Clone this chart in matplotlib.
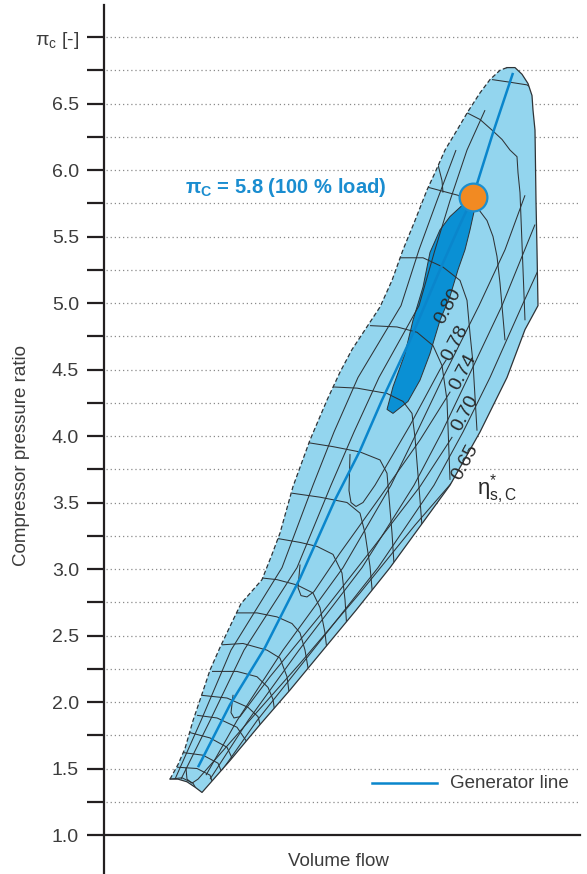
import matplotlib
matplotlib.use('Agg')
import matplotlib.pyplot as plt
from matplotlib.patches import Polygon

plt.rcParams['font.family'] = ['Liberation Sans', 'DejaVu Sans']
plt.rcParams['mathtext.fontset'] = 'custom'
plt.rcParams['mathtext.rm'] = 'Liberation Sans'
plt.rcParams['mathtext.it'] = 'Liberation Sans:italic'
plt.rcParams['mathtext.bf'] = 'Liberation Sans:bold'

# ---------------- data ----------------
# y axis
major_ticks = [1.0, 1.5, 2.0, 2.5, 3.0, 3.5, 4.0, 4.5, 5.0, 5.5, 6.0, 6.5, 7.0]
major_labels = ['1.0', '1.5', '2.0', '2.5', '3.0', '3.5', '4.0', '4.5', '5.0', '5.5', '6.0', '6.5',
                r'$\mathrm{\pi_{c}}$ [-]']
minor_ticks = [1.25, 1.75, 2.25, 2.75, 3.25, 3.75, 4.25, 4.75, 5.25, 5.75, 6.25, 6.75]
grid_levels = [1.25, 1.5, 1.75, 2.0, 2.25, 2.5, 2.75, 3.0, 3.25, 3.5, 3.75, 4.0, 4.25, 4.5,
               4.75, 5.0, 5.25, 5.5, 5.75, 6.0, 6.25, 6.5, 6.75, 7.0]

# map envelope: surge side (dashed), from bottom tip to top
surge_v = [0.66, 0.74, 0.81, 0.89, 0.98, 1.06, 1.16, 1.28, 1.37, 1.58, 1.68, 1.76, 1.89, 2.06,
           2.23, 2.36, 2.48, 2.62, 2.76, 2.88, 2.99, 3.11, 3.23, 3.31, 3.41, 3.53, 3.64, 3.76,
           3.86, 3.96, 4.03]
surge_p = [1.42, 1.53, 1.65, 1.86, 2.06, 2.24, 2.41, 2.60, 2.74, 2.92, 3.11, 3.27, 3.62, 3.97,
           4.27, 4.48, 4.65, 4.81, 4.97, 5.17, 5.40, 5.62, 5.85, 5.98, 6.15, 6.30, 6.44, 6.58,
           6.68, 6.75, 6.77]
# choke side (solid), from top down to bottom tip
choke_v = [4.03, 4.11, 4.18, 4.24, 4.28, 4.29, 4.31, 4.32, 4.33, 4.34, 4.21, 4.03, 3.76, 3.46,
           3.16, 2.86, 2.52, 2.19, 1.86, 1.56, 1.26, 0.98, 0.91, 0.83, 0.74, 0.66]
choke_p = [6.77, 6.77, 6.72, 6.65, 6.56, 6.45, 6.30, 5.77, 5.40, 4.98, 4.80, 4.44, 4.03, 3.63,
           3.32, 3.01, 2.69, 2.39, 2.09, 1.83, 1.56, 1.32, 1.36, 1.40, 1.42, 1.42]

# efficiency island (eta >= 0.80)
island_v = [3.71, 3.66, 3.61, 3.54, 3.46, 3.36, 3.26, 3.16, 3.04, 2.89, 2.83, 2.89, 3.01, 3.09,
            3.19, 3.26, 3.36, 3.46, 3.59, 3.66]
island_p = [5.72, 5.55, 5.40, 5.25, 5.05, 4.87, 4.62, 4.42, 4.26, 4.17, 4.20, 4.37, 4.62, 4.87,
            5.12, 5.38, 5.55, 5.65, 5.74, 5.77]

# generator line
gen_v = [0.94, 1.26, 1.61, 1.96, 2.31, 2.56, 2.78, 3.06, 3.36, 3.56, 3.69, 3.89, 4.09]
gen_p = [1.51, 1.98, 2.41, 2.93, 3.52, 3.89, 4.27, 4.72, 5.25, 5.59, 5.80, 6.28, 6.73]

# design point
design_v = 3.69
design_p = 5.8

# speed lines
speed_lines = [
    ([0.66, 0.78, 0.89, 0.94], [1.42, 1.43, 1.39, 1.32]),
    ([0.73, 0.93, 1.06, 1.11], [1.51, 1.50, 1.45, 1.34]),
    ([0.79, 0.99, 1.14, 1.21], [1.62, 1.60, 1.54, 1.41]),
    ([0.86, 1.06, 1.23, 1.31], [1.77, 1.73, 1.66, 1.53]),
    ([0.93, 1.13, 1.33, 1.42, 1.46], [1.90, 1.88, 1.81, 1.71, 1.56]),
    ([0.98, 1.23, 1.44, 1.54, 1.59], [2.05, 2.03, 1.96, 1.89, 1.75]),
    ([1.08, 1.33, 1.53, 1.64, 1.69, 1.72], [2.23, 2.23, 2.19, 2.11, 2.02, 1.86]),
    ([1.18, 1.39, 1.63, 1.76, 1.83, 1.86], [2.43, 2.44, 2.39, 2.33, 2.19, 2.02]),
    ([1.29, 1.53, 1.73, 1.88, 1.96, 2.01, 2.06], [2.67, 2.67, 2.64, 2.59, 2.52, 2.39, 2.17]),
    ([1.49, 1.73, 1.93, 2.09, 2.16, 2.21, 2.24], [2.94, 2.92, 2.88, 2.82, 2.71, 2.52, 2.32]),
    ([1.73, 1.96, 2.13, 2.29, 2.38, 2.41, 2.43], [3.23, 3.20, 3.17, 3.11, 2.97, 2.77, 2.54]),
    ([1.88, 2.16, 2.43, 2.56, 2.61, 2.66, 2.69], [3.57, 3.54, 3.50, 3.42, 3.27, 3.02, 2.77]),
    ([2.04, 2.29, 2.56, 2.76, 2.83, 2.88, 2.91], [3.95, 3.92, 3.88, 3.82, 3.72, 3.27, 2.92]),
    ([2.26, 2.53, 2.83, 2.99, 3.08, 3.11, 3.16, 3.19], [4.37, 4.36, 4.32, 4.26, 4.17, 3.99, 3.52, 3.22]),
    ([2.66, 2.93, 3.13, 3.29, 3.38, 3.43, 3.46], [4.83, 4.82, 4.78, 4.68, 4.53, 4.27, 3.67]),
    ([2.89, 3.19, 3.39, 3.56, 3.63, 3.66, 3.69, 3.73], [5.34, 5.34, 5.27, 5.17, 5.02, 4.77, 4.55, 4.04]),
    ([3.24, 3.54, 3.73, 3.83, 3.89, 3.93, 3.96, 4.01], [5.87, 5.81, 5.72, 5.62, 5.50, 5.35, 5.15, 4.72]),
    ([3.63, 3.76, 3.88, 3.98, 4.06, 4.13, 4.14, 4.16, 4.21], [6.43, 6.38, 6.30, 6.23, 6.15, 6.10, 5.98, 5.83, 4.87]),
    ([3.88, 4.06, 4.23, 4.31], [6.68, 6.66, 6.64, 6.60]),
]

# grid lines running along the map (choke side and surge side)
band_lines = [
    ([1.10, 1.53, 2.09, 2.74, 3.30, 3.59, 3.86, 4.18, 4.41], [1.40, 1.86, 2.39, 3.01, 3.63, 4.03, 4.44, 4.98, 5.36]),
    ([1.06, 1.44, 1.95, 2.58, 3.10, 3.38, 3.64, 3.98, 4.31], [1.42, 1.86, 2.39, 3.01, 3.63, 4.03, 4.44, 4.98, 5.59]),
    ([1.02, 1.33, 1.79, 2.39, 2.87, 3.13, 3.39, 3.75, 4.01, 4.21], [1.45, 1.86, 2.39, 3.01, 3.63, 4.03, 4.44, 4.98, 5.40, 5.81]),
    ([0.71, 0.97, 1.27, 1.78, 2.09, 2.30, 2.54, 2.97, 3.15, 3.33, 3.52], [1.42, 1.86, 2.39, 3.01, 3.63, 4.03, 4.44, 4.98, 5.40, 5.77, 6.15]),
    ([0.77, 1.06, 1.40, 1.93, 2.27, 2.50, 2.75, 3.15, 3.31, 3.46, 3.63, 3.81], [1.42, 1.86, 2.39, 3.01, 3.63, 4.03, 4.44, 4.98, 5.40, 5.77, 6.15, 6.45]),
    ([3.26, 3.34, 3.38, 3.39], [6.15, 6.04, 5.92, 5.83]),
]

# efficiency contours (eta*_s,C)
eff_levels = ['0.78', '0.74', '0.70', '0.65']
eff_lines = [
    ([2.46, 2.45, 2.47, 2.52, 2.59, 2.71, 3.06, 3.36, 3.42], [3.86, 3.59, 3.50, 3.47, 3.50, 3.63, 4.08, 4.50, 4.57]),
    ([1.96, 1.94, 1.97, 2.03, 2.10, 2.36, 2.76, 3.16, 3.46], [3.03, 2.86, 2.80, 2.79, 2.83, 3.12, 3.54, 3.97, 4.33]),
    ([1.29, 1.27, 1.30, 1.36, 1.66, 2.16, 2.66, 3.16, 3.48], [2.05, 1.92, 1.88, 1.89, 2.19, 2.65, 3.13, 3.62, 3.99]),
    ([0.82, 0.83, 0.88, 0.94, 1.36, 1.96, 2.56, 3.11, 3.49], [1.50, 1.42, 1.39, 1.42, 1.78, 2.29, 2.82, 3.33, 3.66]),
]
label_levels = ['0.80', '0.78', '0.74', '0.70', '0.65']
label_v = [3.44, 3.51, 3.59, 3.61, 3.61]
label_p = [4.98, 4.70, 4.48, 4.17, 3.80]

# ---------------- figure ----------------
DARK = '#231f20'
TXT = '#3c3c3c'
LIGHT = '#93d5ee'
ISLAND = '#0a90d4'
BLUE = '#0a86cc'
LINE = '#2f3336'

fig = plt.figure(figsize=(5.87, 8.74), dpi=100)
ax = fig.add_axes([104 / 587, 0, 483 / 587, 1])
ax.set_xlim(0, 4.83)
ax.set_ylim(0.7068, 7.2782)

for s in ['top', 'right']:
    ax.spines[s].set_visible(False)
ax.spines['bottom'].set_position(('data', 1.0))
ax.spines['bottom'].set_bounds(0, 4.76)
ax.spines['left'].set_bounds(0.7068, 7.24)
for s in ['bottom', 'left']:
    ax.spines[s].set_linewidth(1.6)
    ax.spines[s].set_color(DARK)
ax.set_xticks([])
ax.set_yticks(major_ticks)
ax.set_yticklabels(major_labels)
ax.set_yticks(minor_ticks, minor=True)
ax.tick_params(axis='y', which='both', length=12.5, width=1.6, color=DARK, pad=5.5,
               labelsize=14, labelcolor=TXT)
ax.patch.set_alpha(0)

ax.hlines(grid_levels, 0.02, 4.74, colors='#8a8a8a', linestyles=(0, (1, 2.3)), lw=0.9, zorder=0)

env_v = surge_v + choke_v
env_p = surge_p + choke_p
env = Polygon(list(zip(env_v, env_p)), closed=True, facecolor=LIGHT, edgecolor='none', zorder=1)
ax.add_patch(env)

isl = Polygon(list(zip(island_v, island_p)), closed=True, facecolor=ISLAND, edgecolor=LINE,
              lw=0.7, zorder=2)
ax.add_patch(isl)
isl.set_clip_path(env)

for v, p in speed_lines + band_lines:
    ln, = ax.plot(v, p, color=LINE, lw=0.75, zorder=3, solid_capstyle='butt')
    ln.set_clip_path(env)
for v, p in eff_lines:
    ln, = ax.plot(v, p, color=LINE, lw=0.75, zorder=3)
    ln.set_clip_path(env)

ax.plot(gen_v, gen_p, color=BLUE, lw=1.8, zorder=4, solid_capstyle='butt')

ax.plot(surge_v, surge_p, color=LINE, lw=0.9, ls=(0, (3.5, 2)), zorder=5)
ax.plot(choke_v, choke_p, color=LINE, lw=0.9, zorder=5)

ax.plot([design_v], [design_p], 'o', ms=20, mfc='#f28a22', mec='#1a8fd0', mew=1.6, zorder=6)

for lab, v, p in zip(label_levels, label_v, label_p):
    ax.text(v, p, lab, rotation=62, ha='center', va='center', fontsize=14, color='#2a2a2a', zorder=7)

ax.text(3.73, 3.60, r'$\mathrm{\eta}^{*}_{\mathrm{s,C}}$', fontsize=16, color='#2a2a2a',
        ha='left', va='center', zorder=7)

ax.text(1.82, 5.87, r'$\mathbf{\pi_{C}}$ = 5.8 (100 % load)', fontsize=14.5, fontweight='bold',
        color='#1a8dd0', ha='center', va='center', zorder=7)

ax.plot([2.68, 3.33], [1.39, 1.39], color=BLUE, lw=1.8, zorder=6)
ax.text(3.46, 1.39, 'Generator line', fontsize=13.5, color=TXT, ha='left', va='center')

fig.text(22 / 587, 1 - 455 / 874, 'Compressor pressure ratio', rotation=90, fontsize=13.5,
         color=TXT, ha='center', va='center')
fig.text(338 / 587, 1 - 861 / 874, 'Volume flow', fontsize=13.5, color=TXT, ha='center', va='center')

fig.savefig('out.png', dpi=100)
